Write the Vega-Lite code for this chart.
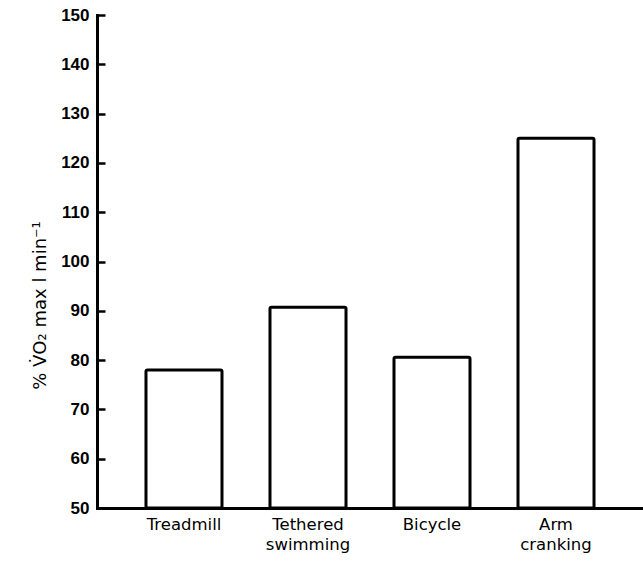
{
  "$schema": "https://vega.github.io/schema/vega-lite/v6.json",
  "width": 546,
  "height": 493,
  "autosize": {"type": "none"},
  "padding": {"left": 97, "top": 15, "right": 0, "bottom": 54},
  "background": "white",
  "config": {"view": {"stroke": null}},
  "data": {
    "values": [
      {"exercise": "Treadmill", "value": 78},
      {"exercise": "Tethered swimming", "value": 90.7},
      {"exercise": "Bicycle", "value": 80.6},
      {"exercise": "Arm cranking", "value": 125}
    ]
  },
  "encoding": {
    "x": {
      "field": "exercise",
      "type": "nominal",
      "sort": null,
      "scale": {"paddingInner": 0.387, "paddingOuter": 0.395},
      "axis": {
        "title": null,
        "labelAngle": 0,
        "ticks": false,
        "domain": true,
        "domainColor": "black",
        "domainWidth": 3,
        "domainCap": "square",
        "labelExpr": "split(datum.label, ' ')",
        "labelFont": "DejaVu Sans",
        "labelFontSize": 16.5,
        "labelFontWeight": 500,
        "labelColor": "black",
        "labelLineHeight": 20,
        "labelPadding": 8,
        "labelBaseline": "top"
      }
    }
  },
  "layer": [
    {
      "mark": {"type": "bar", "fill": "white", "stroke": "black", "strokeWidth": 3, "cornerRadius": 1.5},
      "encoding": {
        "y": {
          "field": "value",
          "type": "quantitative",
          "scale": {"domain": [50, 150], "zero": false, "nice": false},
          "axis": {
            "values": [50, 60, 70, 80, 90, 100, 110, 120, 130, 140, 150],
            "grid": false,
            "ticks": false,
            "domainColor": "black",
            "domainWidth": 3,
            "domainCap": "square",
            "labelPadding": 8,
            "labelFont": "Liberation Sans",
            "labelFontWeight": "bold",
            "labelFontSize": 17,
            "labelColor": "black",
            "title": "% V̇O₂ max l min⁻¹",
            "titleFont": "DejaVu Sans",
            "titleFontSize": 18,
            "titleFontWeight": "normal",
            "titleColor": "black",
            "titleAngle": -90,
            "titleX": -57,
            "titleY": 290,
            "titleAlign": "center",
            "titleBaseline": "middle"
          }
        },
        "y2": {"datum": 50}
      }
    },
    {
      "mark": {"type": "bar", "opacity": 0},
      "encoding": {
        "y": {
          "field": "value",
          "type": "quantitative",
          "scale": {"domain": [50, 150], "zero": false, "nice": false},
          "axis": {
            "orient": "right",
            "offset": -546,
            "values": [60, 70, 80, 90, 100, 110, 120, 130, 140, 150],
            "grid": false,
            "domain": false,
            "labels": false,
            "title": null,
            "ticks": true,
            "tickColor": "black",
            "tickWidth": 2.5,
            "tickSize": 8
          }
        },
        "y2": {"datum": 50}
      }
    }
  ],
  "resolve": {"axis": {"y": "independent"}}
}
